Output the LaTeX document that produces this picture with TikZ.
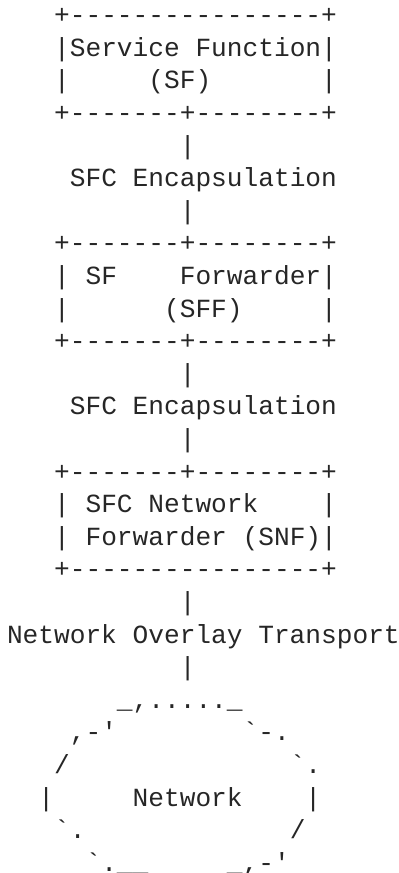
\documentclass[tikz,border=0pt]{standalone}
\usepackage{fontspec}
\setmonofont{Liberation Mono}
\definecolor{ink}{RGB}{38,38,38}
\begin{document}
\begin{tikzpicture}[x=1pt,y=-1pt,
  row/.style={anchor=base west, inner sep=0pt, outer sep=0pt, text=ink,
    font=\fontsize{26.18}{32.6}\selectfont\ttfamily}]
\useasboundingbox (0,0) rectangle (399,873);
\node[row] (r0)  at (7, 23.6)  {~~~+----------------+};
\node[row] (r1)  at (7, 56.2)  {~~~|Service~Function|};
\node[row] (r2)  at (7, 88.8)  {~~~|~~~~~(SF)~~~~~~~|};
\node[row] (r3)  at (7, 121.4) {~~~+-------+--------+};
\node[row] (r4)  at (7, 154.0) {~~~~~~~~~~~|};
\node[row] (r5)  at (7, 186.6) {~~~~SFC~Encapsulation};
\node[row] (r6)  at (7, 219.2) {~~~~~~~~~~~|};
\node[row] (r7)  at (7, 251.8) {~~~+-------+--------+};
\node[row] (r8)  at (7, 284.4) {~~~|~SF~~~~Forwarder|};
\node[row] (r9)  at (7, 317.0) {~~~|~~~~~~(SFF)~~~~~|};
\node[row] (r10) at (7, 349.6) {~~~+-------+--------+};
\node[row] (r11) at (7, 382.2) {~~~~~~~~~~~|};
\node[row] (r12) at (7, 414.8) {~~~~SFC~Encapsulation};
\node[row] (r13) at (7, 447.4) {~~~~~~~~~~~|};
\node[row] (r14) at (7, 480.0) {~~~+-------+--------+};
\node[row] (r15) at (7, 512.6) {~~~|~SFC~Network~~~~|};
\node[row] (r16) at (7, 545.2) {~~~|~Forwarder~(SNF)|};
\node[row] (r17) at (7, 577.8) {~~~+----------------+};
\node[row] (r18) at (7, 610.4) {~~~~~~~~~~~|};
\node[row] (r19) at (7, 643.0) {Network~Overlay~Transport};
\node[row] (r20) at (7, 675.6) {~~~~~~~~~~~|};
\node[row] (r21) at (7, 708.2) {~~~~~~~\_,.....\_};
\node[row] (r22) at (7, 740.8) {~~~~,-'~~~~~~~~`-.};
\node[row] (r23) at (7, 773.4) {~~~/~~~~~~~~~~~~~~`.};
\node[row] (r24) at (7, 806.0) {~~|~~~~~Network~~~~|};
\node[row] (r25) at (7, 838.6) {~~~`.~~~~~~~~~~~~~/};
\node[row] (r26) at (7, 871.2) {~~~~~`.\_\_~~~~~\_,-'};
\end{tikzpicture}
\end{document}
